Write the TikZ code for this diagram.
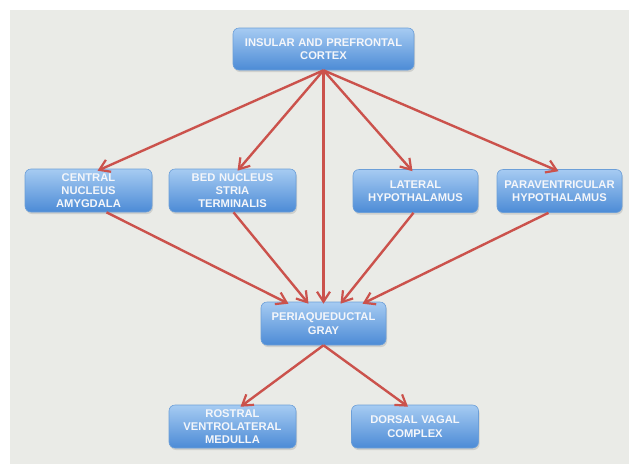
\documentclass[tikz,border=0pt]{standalone}
\usepackage{fontspec}
\setmainfont{Liberation Sans}
\usetikzlibrary{arrows.meta,shadows,calc}
\definecolor{bgtex}{HTML}{EAEBE7}
\definecolor{boxtop}{HTML}{A6CBF2}
\definecolor{boxbot}{HTML}{4C8BD6}
\definecolor{boxline}{HTML}{6C9FD8}
\definecolor{arrowred}{HTML}{CB524C}
\definecolor{txt}{HTML}{F4F6FA}
\tikzset{
  box/.style={rectangle, rounded corners=6pt, minimum width=127pt, minimum height=43pt,
    text width=124pt, align=center, inner sep=0pt,
    top color=boxtop, bottom color=boxbot, draw=boxline, line width=0.6pt,
    drop shadow={opacity=0.25, shadow xshift=1pt, shadow yshift=-2pt},
    text=txt, font=\fontsize{11.2}{13.3}\selectfont\bfseries},
  arr/.style={draw=arrowred, line width=2.4pt, -{Straight Barb[length=10pt,width=13pt,line width=2.2pt]}}
}
\begin{document}
\begin{tikzpicture}[x=1pt,y=-1pt]
\useasboundingbox (0,0) rectangle (629,464);
\fill[white] (0,0) rectangle (629,464);
\fill[bgtex] (10,10) rectangle (629,464);

\node[box, minimum width=181pt, minimum height=42pt, text width=176pt] (top) at (323.5,49) {INSULAR AND PREFRONTAL\\CORTEX};
\node[box] (can) at (88.5,190.5) {CENTRAL\\NUCLEUS\\AMYGDALA};
\node[box] (bnst) at (232.5,190.5) {BED NUCLEUS\\STRIA\\TERMINALIS};
\node[box, minimum width=125pt] (lh) at (415.5,191) {LATERAL\\HYPOTHALAMUS};
\node[box, minimum width=125pt] (pvh) at (559.5,191) {PARAVENTRICULAR\\HYPOTHALAMUS};
\node[box, minimum width=125pt] (pag) at (323.5,323.5) {PERIAQUEDUCTAL\\GRAY};
\node[box] (rvlm) at (232.5,426.5) {ROSTRAL\\VENTROLATERAL\\MEDULLA};
\node[box] (dvc) at (415,426.5) {DORSAL VAGAL\\COMPLEX};

\draw[arr] (top.south) -- ([xshift=9pt,yshift=-2pt]can.north);
\draw[arr] (top.south) -- ([xshift=5pt,yshift=-2pt]bnst.north);
\draw[arr] (top.south) -- ([yshift=-2pt]pag.north);
\draw[arr] (top.south) -- ([xshift=-3pt,yshift=-2pt]lh.north);
\draw[arr] (top.south) -- ([xshift=-1pt,yshift=-2pt]pvh.north);

\draw[arr] ([xshift=18pt]can.south) -- ([xshift=-35pt,yshift=-2pt]pag.north);
\draw[arr] ([xshift=1pt]bnst.south) -- ([xshift=-15pt,yshift=-2pt]pag.north);
\draw[arr] ([xshift=-2pt]lh.south) -- ([xshift=17pt,yshift=-2pt]pag.north);
\draw[arr] ([xshift=-11pt]pvh.south) -- ([xshift=39pt,yshift=-2pt]pag.north);

\draw[arr] (pag.south) -- ([xshift=8pt,yshift=-2pt]rvlm.north);
\draw[arr] (pag.south) -- ([xshift=-7pt,yshift=-2pt]dvc.north);
\end{tikzpicture}
\end{document}
